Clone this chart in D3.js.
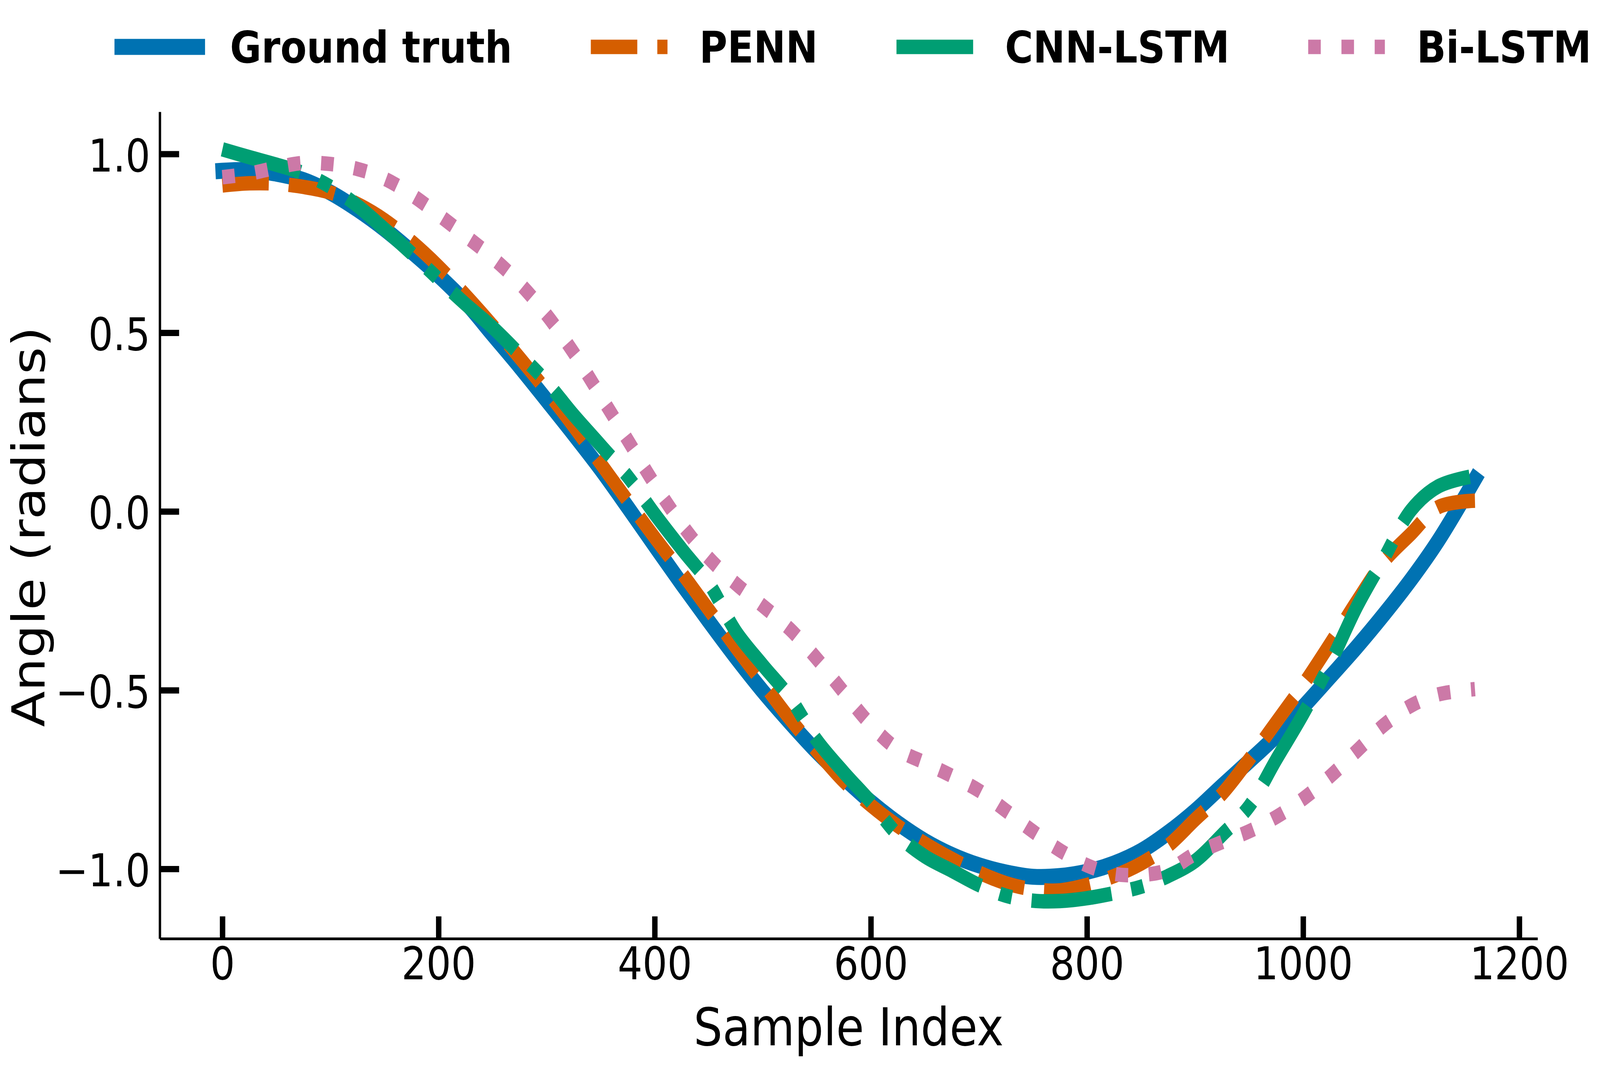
<!DOCTYPE html>
<html>
<head>
<meta charset="utf-8">
<script src="https://cdn.jsdelivr.net/npm/d3@7/dist/d3.min.js"></script>
<style>
  html, body { margin: 0; padding: 0; background: #ffffff; overflow: hidden; }
  svg { display: block; }
</style>
</head>
<body>
<script>
// ---------------- data ----------------
const sampleIndex = [0,25,50,75,100,125,150,175,200,225,250,275,300,325,350,375,400,425,450,475,500,525,550,575,600,625,650,675,700,725,750,775,800,825,850,875,900,925,950,975,1000,1025,1050,1075,1100,1125,1159];

const groundTruth = [0.953,0.955,0.945,0.927,0.892,0.845,0.790,0.727,0.660,0.585,0.495,0.405,0.311,0.216,0.118,0.012,-0.096,-0.203,-0.307,-0.408,-0.503,-0.590,-0.672,-0.745,-0.813,-0.872,-0.922,-0.961,-0.990,-1.010,-1.022,-1.020,-1.008,-0.985,-0.950,-0.899,-0.838,-0.768,-0.699,-0.628,-0.547,-0.463,-0.378,-0.287,-0.190,-0.082,0.090];

const penn = [0.912,0.918,0.917,0.908,0.892,0.860,0.815,0.755,0.685,0.605,0.520,0.430,0.337,0.238,0.134,0.030,-0.073,-0.172,-0.275,-0.380,-0.480,-0.580,-0.670,-0.755,-0.822,-0.880,-0.929,-0.972,-1.010,-1.040,-1.057,-1.060,-1.045,-1.020,-0.985,-0.935,-0.862,-0.790,-0.694,-0.590,-0.485,-0.370,-0.250,-0.139,-0.062,0.012,0.030];

const cnnLstm = [1.013,0.991,0.970,0.946,0.908,0.855,0.790,0.722,0.650,0.580,0.515,0.440,0.362,0.270,0.185,0.098,-0.007,-0.105,-0.200,-0.335,-0.430,-0.520,-0.640,-0.730,-0.813,-0.905,-0.965,-1.005,-1.045,-1.075,-1.089,-1.090,-1.082,-1.068,-1.050,-1.020,-0.978,-0.905,-0.825,-0.695,-0.567,-0.425,-0.265,-0.130,0.004,0.070,0.100];

const biLstm = [0.935,0.945,0.962,0.975,0.972,0.958,0.931,0.886,0.830,0.771,0.710,0.638,0.550,0.444,0.323,0.200,0.076,-0.036,-0.130,-0.202,-0.264,-0.329,-0.412,-0.506,-0.597,-0.666,-0.703,-0.740,-0.781,-0.837,-0.895,-0.948,-0.990,-1.014,-1.017,-1.003,-0.958,-0.925,-0.895,-0.855,-0.804,-0.741,-0.669,-0.597,-0.543,-0.512,-0.497];

const seriesNames = ["Ground truth", "PENN", "CNN-LSTM", "Bi-LSTM"];
const seriesValues = [groundTruth, penn, cnnLstm, biLstm];

const xTicks = [0, 200, 400, 600, 800, 1000, 1200];
const yTicks = [-1.0, -0.5, 0.0, 0.5, 1.0];
const xLabel = "Sample Index";
const yLabel = "Angle (radians)";

// ---------------- styles ----------------
const W = 4717, H = 2733;
const colors = ["#0072B2", "#D55E00", "#009E73", "#CC79A7"];
const widths = [41, 37, 37, 37];
const dashes = [null, "137,59", "237,59,37,59", "37,61"];
const caps = ["square", "butt", "butt", "butt"];
const FONT = "'DejaVu Sans', sans-serif";

// the drawing is laid out on a 4717x2733 canvas and fills the window
const svg = d3.select("body").append("svg")
  .attr("width", "100vw").attr("height", "100vh")
  .attr("viewBox", `0 0 ${W} ${H}`)
  .attr("preserveAspectRatio", "none");
svg.append("rect").attr("width", W).attr("height", H).attr("fill", "#fff");

// axes box
const axLeft = 471, axRight = 4533, axTop = 286, axBottom = 2402;
const xMin = d3.min(sampleIndex), xMax = d3.max(sampleIndex);
const allY = seriesValues.flat();
const yMin = d3.min(allY), yMax = d3.max(allY);
const xPad = (xMax - xMin) * 0.05, yPad = (yMax - yMin) * 0.05;

const x = d3.scaleLinear().domain([xMin - xPad, xMax + xPad]).range([axLeft, axRight]);
const y = d3.scaleLinear().domain([yMin - yPad, yMax + yPad]).range([axBottom, axTop]);

// lines
const line = d3.line()
  .x((d, i) => x(sampleIndex[i]))
  .y(d => y(d))
  .curve(d3.curveCatmullRom.alpha(0.5));

const plot = svg.append("g");
seriesValues.forEach((vals, k) => {
  plot.append("path")
    .datum(vals)
    .attr("d", line)
    .attr("fill", "none")
    .attr("stroke", colors[k])
    .attr("stroke-width", widths[k])
    .attr("stroke-linecap", caps[k])
    .attr("stroke-linejoin", "round")
    .attr("stroke-dasharray", dashes[k]);
});

// axes
const tickLen = 57, tickW = 16, spineW = 7;
const fmtY = d3.format(".1f");

const gx = svg.append("g").attr("transform", `translate(0,${axBottom})`)
  .call(d3.axisBottom(x).tickValues(xTicks).tickFormat(d3.format("d"))
    .tickSizeInner(-tickLen).tickSizeOuter(0).tickPadding(0));
const gy = svg.append("g").attr("transform", `translate(${axLeft},0)`)
  .call(d3.axisLeft(y).tickValues(yTicks).tickFormat(d => fmtY(d).replace("-", "\u2212"))
    .tickSizeInner(-tickLen).tickSizeOuter(0).tickPadding(0));

[gx, gy].forEach(g => {
  g.attr("font-family", null).attr("font-size", null);
  g.select(".domain").attr("stroke", "#000").attr("stroke-width", spineW);
  g.selectAll(".tick line").attr("stroke", "#000").attr("stroke-width", tickW);
  g.selectAll(".tick text")
    .attr("font-family", FONT).attr("font-size", 115).attr("fill", "#000");
});
gx.selectAll(".tick text").attr("y", 104).attr("dy", null).attr("text-anchor", "middle");
gy.selectAll(".tick text").attr("x", -28).attr("dy", 44).attr("text-anchor", "end");

// axis labels
svg.append("text")
  .attr("x", (axLeft + axRight) / 2).attr("y", 2675)
  .attr("text-anchor", "middle")
  .attr("font-family", FONT).attr("font-size", 134).attr("fill", "#000")
  .text(xLabel);
svg.append("text")
  .attr("transform", `translate(131,${(axTop + axBottom) / 2 + 4}) rotate(-90)`)
  .attr("text-anchor", "middle")
  .attr("font-family", FONT).attr("font-size", 134).attr("fill", "#000")
  .text(yLabel);

// legend
const handleLen = 226, handlePad = 94, colSpacing = 232;
const legY = 120, legBase = 160;
const leg = svg.append("g");
let cx = 358;
seriesNames.forEach((name, k) => {
  leg.append("line")
    .attr("x1", cx).attr("x2", cx + handleLen)
    .attr("y1", legY).attr("y2", legY)
    .attr("stroke", colors[k])
    .attr("stroke-width", widths[k])
    .attr("stroke-linecap", caps[k])
    .attr("stroke-dasharray", dashes[k]);
  const t = leg.append("text")
    .attr("x", cx + handleLen + handlePad).attr("y", legBase)
    .attr("font-family", FONT).attr("font-size", 113).attr("font-weight", "bold")
    .attr("fill", "#000")
    .text(name);
  const w = t.node().getComputedTextLength();
  cx = cx + handleLen + handlePad + w + colSpacing;
});
</script>
</body>
</html>
